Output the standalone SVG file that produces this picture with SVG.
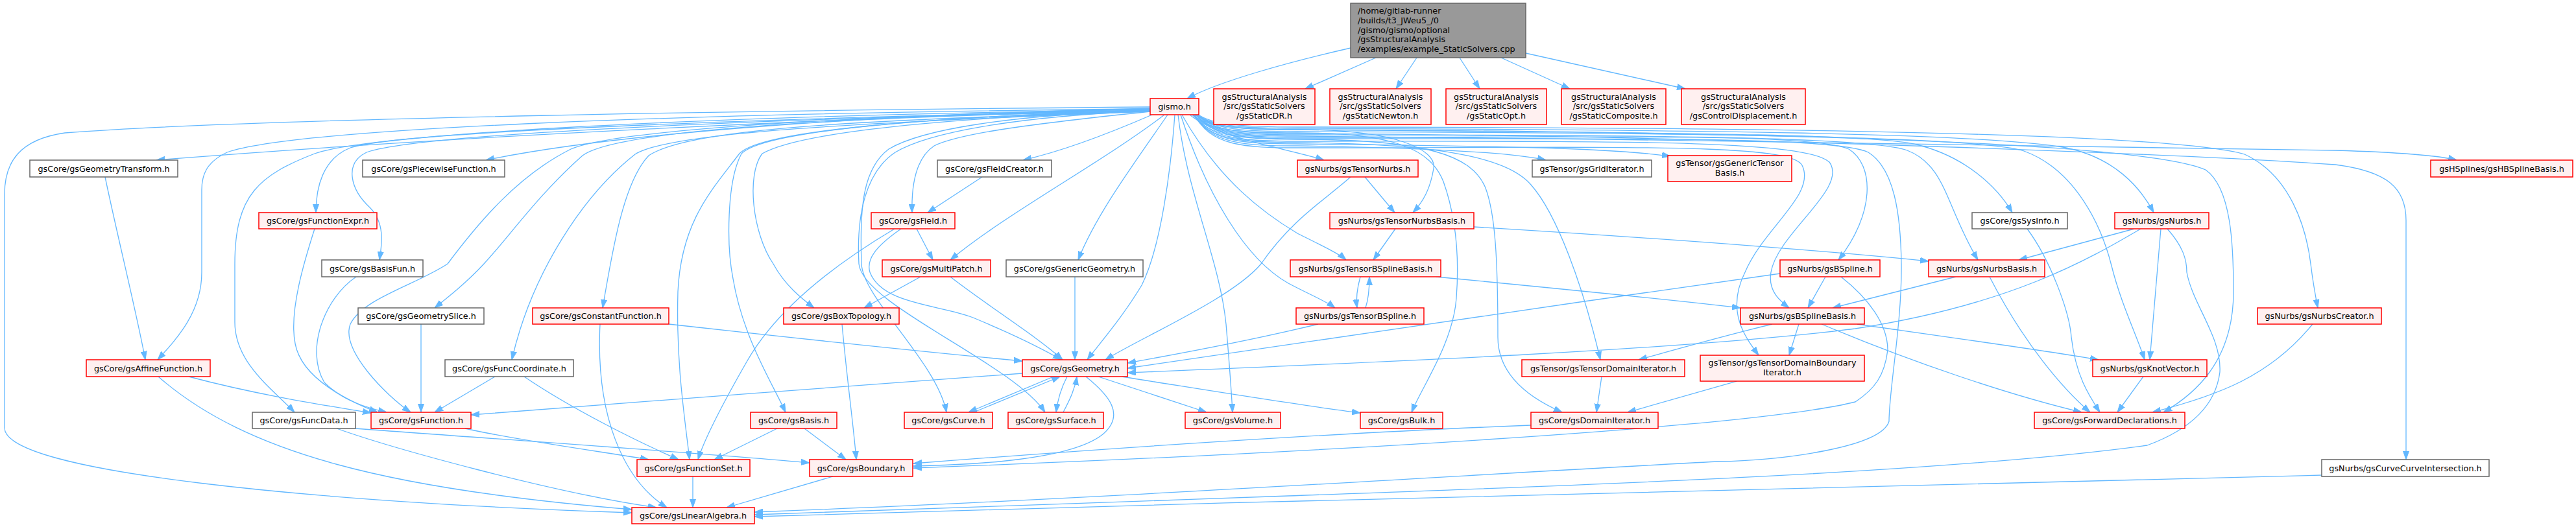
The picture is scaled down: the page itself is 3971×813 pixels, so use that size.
<svg xmlns="http://www.w3.org/2000/svg" width="3971" height="813" viewBox="0 0 3971 813">
<style>
text{font-family:"DejaVu Sans","Liberation Sans",sans-serif;font-size:12.8px;fill:#000}
.c{text-anchor:middle}
.r rect{fill:#fff0f0;stroke:#ff0000;stroke-width:1.5}
.w rect{fill:#ffffff;stroke:#666666;stroke-width:1.5}
.m rect{fill:#999999;stroke:#666666;stroke-width:1.5}
#edges path{fill:none;stroke:#63b8ff;stroke-width:1.3;marker-end:url(#a)}
</style>
<defs>
<marker id="a" markerUnits="userSpaceOnUse" markerWidth="13" markerHeight="10" viewBox="0 0 13 10" refX="13" refY="5" orient="auto">
<path d="M0,0.5 L13,5 L0,9.5 z" fill="#63b8ff" stroke="#63b8ff" stroke-width="1"/>
</marker>
</defs>
<rect width="3971" height="813" fill="#ffffff"/>
<g id="edges">
<path d="M2082,74 C1990,95 1880,125 1830,152"/>
<path d="M2121,89 L2012,137"/>
<path d="M2184,89 L2152,137"/>
<path d="M2250,89 L2281,137"/>
<path d="M2314,89 L2420,137"/>
<path d="M2352,82 L2598,137"/>
<path d="M1773,168 C1300,182 700,210 241,247"/>
<path d="M1773,168 C1350,176 950,205 749,247"/>
<path d="M1773,170 C1300,180 620,200 540,228 C497,245 487,290 487,328"/>
<path d="M1773,170 C1200,183 650,205 565,235 C530,252 540,292 570,320 C595,345 588,380 585,401"/>
<path d="M1773,171 C1300,180 950,200 898,240 C830,300 785,365 746,407 C720,435 695,455 670,475"/>
<path d="M1773,172 C1300,185 1060,200 1000,240 C962,280 945,380 929,475"/>
<path d="M1773,172 C1300,190 1030,205 979,238 C900,300 820,420 789,555"/>
<path d="M1773,169 C1000,180 560,210 485,237 C400,270 362,300 362,407 L362,497 C362,560 420,600 454,636"/>
<path d="M1773,168 C1000,175 450,200 350,235 C318,250 311,270 311,293 L311,420 C311,480 275,520 243,555"/>
<path d="M1773,165 C1200,170 400,182 100,205 C30,215 7,250 7,300 L7,660 C7,730 500,775 974,791"/>
<path d="M1773,167 C1300,180 950,200 880,230 C800,270 740,340 690,407 C640,440 560,460 540,500 C525,540 595,610 633,636"/>
<path d="M1773,170 C1500,180 1240,200 1175,237 C1150,270 1160,360 1192,407 C1210,440 1235,460 1255,475"/>
<path d="M1773,170 C1450,180 1180,200 1143,237 C1120,280 1120,380 1130,430 C1145,520 1190,590 1211,636"/>
<path d="M1773,170 C1450,180 1170,200 1139,238 C1100,290 1050,340 1045,450 C1042,560 1055,640 1063,709"/>
<path d="M1773,170 C1550,178 1420,200 1370,230 C1330,260 1325,320 1328,407 C1330,460 1445,560 1459,636"/>
<path d="M1773,171 C1560,180 1430,205 1380,235 C1335,265 1320,330 1324,407 C1330,470 1560,560 1611,636"/>
<path d="M1773,172 C1600,190 1480,205 1440,225 C1410,245 1405,290 1406,328"/>
<path d="M1811,177 C1805,260 1790,380 1760,440 C1730,490 1695,530 1676,555"/>
<path d="M1816,177 C1830,300 1880,400 1890,500 C1895,560 1898,600 1900,636"/>
<path d="M1795,177 C1700,250 1550,330 1465,401"/>
<path d="M1776,177 C1700,210 1630,235 1577,247"/>
<path d="M1800,177 C1750,250 1690,330 1662,401"/>
<path d="M1822,177 C1880,280 1950,330 2000,360 C2040,380 2065,392 2075,401"/>
<path d="M1820,177 C1860,300 1920,400 1986,437 C2020,455 2045,465 2058,475"/>
<path d="M1834,177 C1880,215 1990,230 2041,247"/>
<path d="M1838,177 C1860,197 1920,200 2000,200 C2150,200 2215,230 2210,260 C2205,290 2195,310 2178,328"/>
<path d="M1838,177 C1860,202 1920,205 2000,205 C2150,205 2205,230 2225,280 C2250,350 2248,420 2245,460 C2240,530 2190,600 2176,636"/>
<path d="M1840,177 C1862,212 1920,215 2000,215 C2200,215 2270,240 2290,290 C2305,330 2309,400 2309,520 C2309,580 2360,615 2408,636"/>
<path d="M1840,177 C1862,217 1920,220 2000,220 C2250,222 2330,250 2360,285 C2400,330 2440,440 2467,555"/>
<path d="M1842,177 C1864,222 1920,225 2000,225 C2200,228 2330,235 2383,247"/>
<path d="M1842,177 C1864,219 1920,222 2000,222 C2300,225 2480,228 2575,241"/>
<path d="M1844,177 C1866,207 1920,210 2000,210 C2600,215 3400,228 3600,232 C3700,235 3760,240 3787,247"/>
<path d="M1844,177 C1866,197 1920,200 2000,200 C2500,205 2870,205 2950,222 C3030,240 3080,290 3102,328"/>
<path d="M1846,177 C1868,195 1920,198 2000,198 C2600,200 3050,205 3180,227 C3260,242 3300,290 3320,328"/>
<path d="M1844,177 C1866,209 1920,212 2000,212 C2500,212 2790,205 2850,230 C2890,255 2890,330 2834,401"/>
<path d="M1844,177 C1866,205 1920,208 2000,208 C2500,208 2880,210 2940,232 C3000,255 3000,320 3049,401"/>
<path d="M1842,177 C1864,215 1920,218 2000,218 C2500,218 2780,215 2820,250 C2850,290 2740,360 2730,420 C2725,450 2745,465 2758,475"/>
<path d="M1842,177 C1864,225 1920,228 2000,228 C2500,228 2760,220 2778,255 C2800,300 2720,350 2690,420 C2660,480 2690,520 2711,548"/>
<path d="M1846,177 C1868,200 1920,203 2000,203 C2600,205 3050,210 3120,233 C3200,262 3240,350 3255,410 C3270,470 3295,520 3306,555"/>
<path d="M1846,177 C1868,197 1920,200 2000,200 C2700,203 3300,218 3400,262 C3440,290 3443,380 3443,450 C3443,560 3380,610 3335,636"/>
<path d="M1846,176 C1868,193 1920,196 2000,196 C2700,196 3350,205 3460,238 C3530,270 3555,350 3562,407 C3566,440 3570,460 3573,475"/>
<path d="M1846,177 C1868,203 1920,206 2000,206 C2700,210 3400,240 3600,254 C3680,264 3709,290 3709,340 L3709,709"/>
<path d="M1844,177 C1866,211 1920,214 2000,214 C2500,214 2830,210 2880,235 C2920,260 2930,330 2931,407 C2932,500 2912,600 2912,650 C2900,690 2750,710 2648,712 C2300,730 1700,770 1163,790"/>
<path d="M162,273 C180,360 210,480 224,555"/>
<path d="M485,353 C470,400 445,480 455,530 C465,585 540,620 582,636"/>
<path d="M549,427 C500,460 470,540 500,590 C530,620 570,630 596,636"/>
<path d="M649,500 L649,636"/>
<path d="M291,581 C400,610 500,625 572,637"/>
<path d="M244,581 C380,700 600,755 974,786"/>
<path d="M519,661 C600,690 850,760 1012,783"/>
<path d="M548,661 C800,680 1100,700 1248,714"/>
<path d="M763,581 L670,636"/>
<path d="M808,581 C880,630 980,680 1046,709"/>
<path d="M1031,500 C1300,530 1450,545 1576,557"/>
<path d="M925,500 C918,640 960,740 1028,783"/>
<path d="M717,661 C800,680 950,700 1000,709"/>
<path d="M1413,353 L1438,401"/>
<path d="M1379,353 C1300,400 1200,470 1150,560 C1110,630 1085,680 1076,709"/>
<path d="M1389,353 C1350,380 1335,400 1341,420 C1360,470 1450,470 1500,490 C1560,515 1610,540 1636,555"/>
<path d="M1514,273 L1430,328"/>
<path d="M1419,427 L1332,475"/>
<path d="M1465,427 C1520,470 1600,520 1638,555"/>
<path d="M1657,427 L1657,555"/>
<path d="M1298,500 C1305,580 1315,650 1320,709"/>
<path d="M1198,661 L1101,709"/>
<path d="M1240,661 L1304,709"/>
<path d="M1068,735 L1068,783"/>
<path d="M1284,735 L1120,783"/>
<path d="M1576,576 C1300,595 1000,620 726,640"/>
<path d="M1624,581 L1493,636"/>
<path d="M1501,636 L1634,581"/>
<path d="M1645,581 C1635,600 1630,620 1628,636"/>
<path d="M1639,636 C1650,615 1657,600 1660,581"/>
<path d="M1693,581 L1860,636"/>
<path d="M1674,581 C1710,610 1735,640 1700,670 C1650,710 1500,717 1408,719"/>
<path d="M1729,581 C1850,600 2000,625 2097,637"/>
<path d="M2082,273 C2040,310 1990,340 1944,407 C1900,460 1760,520 1704,555"/>
<path d="M2104,273 L2150,328"/>
<path d="M2151,353 L2117,401"/>
<path d="M2272,350 C2600,370 2850,390 2973,403"/>
<path d="M2097,427 C2092,445 2090,460 2092,475"/>
<path d="M2105,475 C2110,460 2111,445 2111,427"/>
<path d="M2214,427 C2400,445 2600,465 2683,475"/>
<path d="M2032,500 C1950,520 1850,540 1738,560"/>
<path d="M2744,422 C2400,470 2000,530 1738,568"/>
<path d="M2814,427 L2787,475"/>
<path d="M2838,427 C2880,460 2910,500 2910,540 C2905,580 2890,600 2860,620 C2700,660 2000,700 1408,722"/>
<path d="M3015,427 L2825,475"/>
<path d="M3067,427 C3120,530 3180,600 3222,636"/>
<path d="M3290,353 L3112,401"/>
<path d="M3331,353 L3314,555"/>
<path d="M3300,353 C3220,400 3100,470 2860,507 C2600,540 2100,560 1738,575"/>
<path d="M3341,353 C3365,380 3371,400 3371,420 C3380,470 3425,520 3422,574 C3415,630 3370,665 3310,687 C3000,730 2400,750 1986,765 C1700,775 1400,788 1163,794"/>
<path d="M2732,500 C2650,520 2580,540 2526,555"/>
<path d="M2773,500 L2758,548"/>
<path d="M2808,500 C2950,560 3100,610 3209,636"/>
<path d="M2863,500 C3000,520 3150,540 3235,555"/>
<path d="M2469,581 L2461,636"/>
<path d="M2677,588 L2509,636"/>
<path d="M2360,656 C2000,670 1600,700 1408,715"/>
<path d="M3304,581 L3264,636"/>
<path d="M3125,353 C3160,400 3190,480 3193,520 C3200,580 3220,610 3237,636"/>
<path d="M3565,500 C3500,580 3420,610 3318,636"/>
<path d="M3579,733 C3000,750 2000,770 1163,797"/>
</g>
<g id="n_main" class="m"><rect x="2082" y="5" width="270" height="84"/>
<text x="2093" y="21">/home/gitlab-runner</text><text x="2093" y="35.8">/builds/t3_JWeu5_/0</text><text x="2093" y="50.6">/gismo/gismo/optional</text><text x="2093" y="65.4">/gsStructuralAnalysis</text><text x="2093" y="80.2">/examples/example_StaticSolvers.cpp</text></g>
<g id="n_gismo" class="r"><rect x="1773" y="152" width="75" height="25"/><text class="c" x="1810.5" y="169">gismo.h</text></g>
<g id="n_dr" class="r"><rect x="1871" y="137" width="156" height="55"/><text class="c" x="1949" y="153.5">gsStructuralAnalysis</text><text class="c" x="1949" y="168.3">/src/gsStaticSolvers</text><text class="c" x="1949" y="183.1">/gsStaticDR.h</text></g>
<g id="n_newton" class="r"><rect x="2050" y="137" width="156" height="55"/><text class="c" x="2128" y="153.5">gsStructuralAnalysis</text><text class="c" x="2128" y="168.3">/src/gsStaticSolvers</text><text class="c" x="2128" y="183.1">/gsStaticNewton.h</text></g>
<g id="n_opt" class="r"><rect x="2229" y="137" width="155" height="55"/><text class="c" x="2306.5" y="153.5">gsStructuralAnalysis</text><text class="c" x="2306.5" y="168.3">/src/gsStaticSolvers</text><text class="c" x="2306.5" y="183.1">/gsStaticOpt.h</text></g>
<g id="n_composite" class="r"><rect x="2407" y="137" width="161" height="55"/><text class="c" x="2487.5" y="153.5">gsStructuralAnalysis</text><text class="c" x="2487.5" y="168.3">/src/gsStaticSolvers</text><text class="c" x="2487.5" y="183.1">/gsStaticComposite.h</text></g>
<g id="n_control" class="r"><rect x="2592" y="137" width="191" height="55"/><text class="c" x="2687.5" y="153.5">gsStructuralAnalysis</text><text class="c" x="2687.5" y="168.3">/src/gsStaticSolvers</text><text class="c" x="2687.5" y="183.1">/gsControlDisplacement.h</text></g>
<g id="n_geomtransform" class="w"><rect x="46" y="247" width="228" height="26"/><text class="c" x="160" y="264.5">gsCore/gsGeometryTransform.h</text></g>
<g id="n_piecewise" class="w"><rect x="559" y="247" width="219" height="26"/><text class="c" x="668.5" y="264.5">gsCore/gsPiecewiseFunction.h</text></g>
<g id="n_fieldcreator" class="w"><rect x="1445" y="247" width="176" height="26"/><text class="c" x="1533" y="264.5">gsCore/gsFieldCreator.h</text></g>
<g id="n_tensornurbs" class="r"><rect x="2000" y="247" width="186" height="26"/><text class="c" x="2093" y="264.5">gsNurbs/gsTensorNurbs.h</text></g>
<g id="n_griditerator" class="w"><rect x="2362" y="247" width="184" height="26"/><text class="c" x="2454" y="264.5">gsTensor/gsGridIterator.h</text></g>
<g id="n_generictensorbasis" class="r"><rect x="2571" y="240" width="191" height="40"/><text class="c" x="2666.5" y="256">gsTensor/gsGenericTensor</text><text class="c" x="2666.5" y="271">Basis.h</text></g>
<g id="n_hbsplinebasis" class="r"><rect x="3747" y="247" width="219" height="26"/><text class="c" x="3856.5" y="264.5">gsHSplines/gsHBSplineBasis.h</text></g>
<g id="n_functionexpr" class="r"><rect x="399" y="328" width="182" height="25"/><text class="c" x="490" y="345">gsCore/gsFunctionExpr.h</text></g>
<g id="n_field" class="r"><rect x="1343" y="328" width="129" height="25"/><text class="c" x="1407.5" y="345">gsCore/gsField.h</text></g>
<g id="n_tensornurbsbasis" class="r"><rect x="2050" y="328" width="222" height="25"/><text class="c" x="2161" y="345">gsNurbs/gsTensorNurbsBasis.h</text></g>
<g id="n_sysinfo" class="w"><rect x="3040" y="328" width="147" height="25"/><text class="c" x="3113.5" y="345">gsCore/gsSysInfo.h</text></g>
<g id="n_nurbs" class="r"><rect x="3260" y="328" width="145" height="25"/><text class="c" x="3332.5" y="345">gsNurbs/gsNurbs.h</text></g>
<g id="n_basisfun" class="w"><rect x="496" y="401" width="156" height="26"/><text class="c" x="574" y="418.5">gsCore/gsBasisFun.h</text></g>
<g id="n_multipatch" class="r"><rect x="1360" y="401" width="167" height="26"/><text class="c" x="1443.5" y="418.5">gsCore/gsMultiPatch.h</text></g>
<g id="n_genericgeometry" class="w"><rect x="1551" y="401" width="211" height="26"/><text class="c" x="1656.5" y="418.5">gsCore/gsGenericGeometry.h</text></g>
<g id="n_tensorbsplinebasis" class="r"><rect x="1989" y="401" width="232" height="26"/><text class="c" x="2105" y="418.5">gsNurbs/gsTensorBSplineBasis.h</text></g>
<g id="n_bspline" class="r"><rect x="2744" y="401" width="154" height="26"/><text class="c" x="2821" y="418.5">gsNurbs/gsBSpline.h</text></g>
<g id="n_nurbsbasis" class="r"><rect x="2973" y="401" width="179" height="26"/><text class="c" x="3062.5" y="418.5">gsNurbs/gsNurbsBasis.h</text></g>
<g id="n_geometryslice" class="w"><rect x="552" y="475" width="194" height="25"/><text class="c" x="649" y="492">gsCore/gsGeometrySlice.h</text></g>
<g id="n_constantfunction" class="r"><rect x="821" y="475" width="210" height="25"/><text class="c" x="926" y="492">gsCore/gsConstantFunction.h</text></g>
<g id="n_boxtopology" class="r"><rect x="1208" y="475" width="178" height="25"/><text class="c" x="1297" y="492">gsCore/gsBoxTopology.h</text></g>
<g id="n_tensorbspline" class="r"><rect x="1998" y="475" width="197" height="25"/><text class="c" x="2096.5" y="492">gsNurbs/gsTensorBSpline.h</text></g>
<g id="n_bsplinebasis" class="r"><rect x="2683" y="475" width="191" height="25"/><text class="c" x="2778.5" y="492">gsNurbs/gsBSplineBasis.h</text></g>
<g id="n_nurbscreator" class="r"><rect x="3480" y="475" width="191" height="25"/><text class="c" x="3575.5" y="492">gsNurbs/gsNurbsCreator.h</text></g>
<g id="n_affinefunction" class="r"><rect x="133" y="555" width="191" height="26"/><text class="c" x="228.5" y="572.5">gsCore/gsAffineFunction.h</text></g>
<g id="n_funccoordinate" class="w"><rect x="686" y="555" width="198" height="26"/><text class="c" x="785" y="572.5">gsCore/gsFuncCoordinate.h</text></g>
<g id="n_geometry" class="r"><rect x="1576" y="555" width="162" height="26"/><text class="c" x="1657" y="572.5">gsCore/gsGeometry.h</text></g>
<g id="n_tensordomainiterator" class="r"><rect x="2346" y="555" width="251" height="26"/><text class="c" x="2471.5" y="572.5">gsTensor/gsTensorDomainIterator.h</text></g>
<g id="n_tensordomainboundaryiterator" class="r"><rect x="2621" y="548" width="253" height="40"/><text class="c" x="2747.5" y="564">gsTensor/gsTensorDomainBoundary</text><text class="c" x="2747.5" y="579">Iterator.h</text></g>
<g id="n_knotvector" class="r"><rect x="3226" y="555" width="176" height="26"/><text class="c" x="3314" y="572.5">gsNurbs/gsKnotVector.h</text></g>
<g id="n_funcdata" class="w"><rect x="389" y="636" width="159" height="25"/><text class="c" x="468.5" y="653">gsCore/gsFuncData.h</text></g>
<g id="n_function" class="r"><rect x="572" y="636" width="154" height="25"/><text class="c" x="649" y="653">gsCore/gsFunction.h</text></g>
<g id="n_basis" class="r"><rect x="1157" y="636" width="133" height="25"/><text class="c" x="1223.5" y="653">gsCore/gsBasis.h</text></g>
<g id="n_curve" class="r"><rect x="1394" y="636" width="136" height="25"/><text class="c" x="1462" y="653">gsCore/gsCurve.h</text></g>
<g id="n_surface" class="r"><rect x="1554" y="636" width="147" height="25"/><text class="c" x="1627.5" y="653">gsCore/gsSurface.h</text></g>
<g id="n_volume" class="r"><rect x="1827" y="636" width="147" height="25"/><text class="c" x="1900.5" y="653">gsCore/gsVolume.h</text></g>
<g id="n_bulk" class="r"><rect x="2097" y="636" width="127" height="25"/><text class="c" x="2160.5" y="653">gsCore/gsBulk.h</text></g>
<g id="n_domainiterator" class="r"><rect x="2360" y="636" width="196" height="25"/><text class="c" x="2458" y="653">gsCore/gsDomainIterator.h</text></g>
<g id="n_forwarddecl" class="r"><rect x="3136" y="636" width="232" height="25"/><text class="c" x="3252" y="653">gsCore/gsForwardDeclarations.h</text></g>
<g id="n_functionset" class="r"><rect x="982" y="709" width="174" height="26"/><text class="c" x="1069" y="726.5">gsCore/gsFunctionSet.h</text></g>
<g id="n_boundary" class="r"><rect x="1248" y="709" width="159" height="26"/><text class="c" x="1327.5" y="726.5">gsCore/gsBoundary.h</text></g>
<g id="n_curvecurveintersection" class="w"><rect x="3579" y="709" width="258" height="26"/><text class="c" x="3708" y="726.5">gsNurbs/gsCurveCurveIntersection.h</text></g>
<g id="n_linearalgebra" class="r"><rect x="974" y="783" width="189" height="25"/><text class="c" x="1068.5" y="800">gsCore/gsLinearAlgebra.h</text></g>
</svg>
